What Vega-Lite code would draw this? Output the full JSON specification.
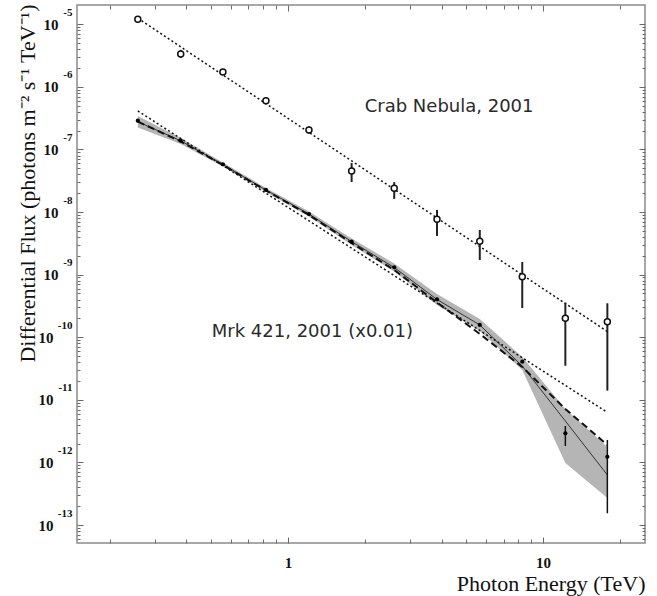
{
  "$schema": "https://vega.github.io/schema/vega-lite/v6.json",
  "width": 568,
  "height": 538,
  "autosize": "none",
  "padding": {"left": 77, "top": 5, "right": 12, "bottom": 53},
  "background": "white",
  "config": {
    "view": {"stroke": "#8a8a8a", "strokeWidth": 1.5},
    "axis": {"grid": false, "domain": false, "ticks": true, "tickColor": "#6a6a6a", "tickWidth": 1, "labelFont": "Liberation Serif", "titleFont": "Liberation Serif", "labelColor": "#111", "titleColor": "#111"}
  },
  "datasets": {
    "spec": [
      {"E": 0.258, "crab": 1.20e-5, "crabLo": 1.08e-5, "crabHi": 1.33e-5, "mrk": 2.88e-7, "bandLo": 2.245e-7, "bandHi": 3.43e-7, "fit": 2.78e-7, "cut": 2.78e-7},
      {"E": 0.380, "crab": 3.35e-6, "crabLo": 2.9e-6, "crabHi": 3.9e-6, "mrk": 1.38e-7, "bandLo": 1.224e-7, "bandHi": 1.526e-7, "fit": 1.37e-7, "cut": 1.34e-7},
      {"E": 0.556, "crab": 1.73e-6, "crabLo": 1.55e-6, "crabHi": 1.93e-6, "mrk": 5.8e-8, "bandLo": 5.35e-8, "bandHi": 6.19e-8, "fit": 5.75e-8, "cut": 5.65e-8},
      {"E": 0.820, "crab": 6.0e-7, "crabLo": 5.3e-7, "crabHi": 6.8e-7, "mrk": 2.25e-8, "bandLo": 2.09e-8, "bandHi": 2.42e-8, "fit": 2.25e-8, "cut": 2.21e-8},
      {"E": 1.209, "crab": 2.05e-7, "crabLo": 1.8e-7, "crabHi": 2.33e-7, "mrk": 9.3e-9, "bandLo": 8.5e-9, "bandHi": 1.02e-8, "fit": 9.3e-9, "cut": 8.97e-9},
      {"E": 1.777, "crab": 4.53e-8, "crabLo": 3.02e-8, "crabHi": 6.08e-8, "mrk": 3.36e-9, "bandLo": 2.98e-9, "bandHi": 3.78e-9, "fit": 3.37e-9, "cut": 3.2e-9},
      {"E": 2.61, "crab": 2.4e-8, "crabLo": 1.62e-8, "crabHi": 3.0e-8, "mrk": 1.31e-9, "bandLo": 1.12e-9, "bandHi": 1.51e-9, "fit": 1.30e-9, "cut": 1.19e-9},
      {"E": 3.84, "crab": 7.66e-9, "crabLo": 4.15e-9, "crabHi": 1.08e-8, "mrk": 4.04e-10, "bandLo": 3.27e-10, "bandHi": 4.91e-10, "fit": 4.01e-10, "cut": 3.59e-10},
      {"E": 5.65, "crab": 3.41e-9, "crabLo": 1.71e-9, "crabHi": 5.17e-9, "mrk": 1.57e-10, "bandLo": 1.26e-10, "bandHi": 1.96e-10, "fit": 1.57e-10, "cut": 1.13e-10},
      {"E": 8.29, "crab": 9.28e-10, "crabLo": 2.93e-10, "crabHi": 1.59e-9, "mrk": 4.07e-11, "bandLo": 3.0e-11, "bandHi": 4.83e-11, "fit": 3.47e-11, "cut": 3.35e-11},
      {"E": 12.23, "crab": 2.01e-10, "crabLo": 3.5e-11, "crabHi": 3.56e-10, "mrk": 2.92e-12, "bandLo": 9.8e-13, "bandHi": 7.14e-12, "fit": 4.59e-12, "cut": 7.14e-12},
      {"E": 17.87, "crab": 1.77e-10, "crabLo": 1.4e-11, "crabHi": 3.49e-10, "mrk": 1.23e-12, "bandLo": 2.7e-13, "bandHi": 1.76e-12, "fit": 6.3e-13, "cut": 1.9e-12}
    ],
    "fits": [
      {"series": "crab", "E": 0.258, "F": 1.25e-5},
      {"series": "crab", "E": 17.87, "F": 1.23e-10},
      {"series": "mrk", "E": 0.258, "F": 4.12e-7},
      {"series": "mrk", "E": 17.87, "F": 6.3e-12}
    ],
    "mrkErr": [
      {"E": 12.23, "lo": 1.83e-12, "hi": 3.82e-12},
      {"E": 17.87, "lo": 1.54e-13, "hi": 2.28e-12}
    ],
    "labels": [
      {"E": 2.0, "F": 4.78e-7, "text": "Crab Nebula, 2001"},
      {"E": 0.503, "F": 1.21e-10, "text": "Mrk 421, 2001 (x0.01)"}
    ]
  },
  "layer": [
    {
      "data": {"name": "spec"},
      "mark": {"type": "area", "color": "#b5b5b5", "opacity": 1},
      "encoding": {
        "x": {"field": "E", "type": "quantitative", "scale": {"type": "log", "domain": [0.149, 25.1], "nice": false, "zero": false},
          "axis": {"orient": "bottom", "values": [1, 10], "ticks": false, "labelExpr": "datum.value == 1 ? '1' : '10'", "labelFontSize": 15, "labelFontWeight": "bold", "labelPadding": 12, "labelFlush": false,
            "title": "Photon Energy (TeV)", "titleFontSize": 22, "titleFontWeight": "normal", "titleX": 568, "titleY": 47, "titleAlign": "right", "titleBaseline": "alphabetic", "titleAnchor": null}},
        "y": {"field": "bandLo", "type": "quantitative", "scale": {"type": "log", "domain": [5.16e-14, 2.03e-5], "nice": false, "zero": false},
          "axis": {"orient": "left", "values": [1e-13, 1e-12, 1e-11, 1e-10, 1e-9, 1e-8, 1e-7, 1e-6, 1e-5], "ticks": false, "labelExpr": "'10'", "labelFontSize": 15, "labelFontWeight": "bold", "labelAlign": "right", "labelBaseline": "middle",
            "labelPadding": {"condition": {"test": "datum.value < 3e-10", "value": 24}, "value": 19}, "labelFlush": false, "labelOverlap": false,
            "title": "Differential Flux (photons m⁻² s⁻¹ TeV⁻¹)", "titleFontSize": 22, "titleFontWeight": "normal", "titleAngle": -90, "titleX": -50, "titleY": -1, "titleAlign": "right", "titleBaseline": "middle", "titleAnchor": null}},
        "y2": {"field": "bandHi"}
      }
    },
    {
      "data": {"name": "spec"},
      "mark": {"type": "line", "color": "#333", "strokeWidth": 1},
      "encoding": {
        "x": {"field": "E", "type": "quantitative",
          "axis": {"orient": "bottom", "values": [0.2, 0.3, 0.4, 0.5, 0.6, 0.7, 0.8, 0.9, 2, 3, 4, 5, 6, 7, 8, 9, 20], "labels": false, "title": null, "tickSize": -4}},
        "y": {"field": "fit", "type": "quantitative",
          "axis": {"orient": "left", "values": [1e-13, 1e-12, 1e-11, 1e-10, 1e-9, 1e-8, 1e-7, 1e-6, 1e-5], "ticks": false, "title": null,
            "labelExpr": "'' + round(log(datum.value) / LN10)", "labelFontSize": 11, "labelFontWeight": "bold", "labelAlign": "right", "labelBaseline": "middle", "labelPadding": 5, "labelOffset": -12, "labelFlush": false, "labelOverlap": false}}
      }
    },
    {
      "data": {"name": "spec"},
      "mark": {"type": "line", "color": "#111", "strokeWidth": 2, "strokeDash": [7, 4]},
      "encoding": {
        "x": {"field": "E", "type": "quantitative",
          "axis": {"orient": "top", "values": [0.2, 0.3, 0.4, 0.5, 0.6, 0.7, 0.8, 0.9, 2, 3, 4, 5, 6, 7, 8, 9, 20], "labels": false, "title": null, "tickSize": -4}},
        "y": {"field": "cut", "type": "quantitative",
          "axis": {"orient": "right", "labels": false, "title": null, "tickSize": -3,
            "values": [6e-14, 7e-14, 8e-14, 9e-14, 2e-13, 3e-13, 4e-13, 5e-13, 6e-13, 7e-13, 8e-13, 9e-13, 2e-12, 3e-12, 4e-12, 5e-12, 6e-12, 7e-12, 8e-12, 9e-12, 2e-11, 3e-11, 4e-11, 5e-11, 6e-11, 7e-11, 8e-11, 9e-11, 2e-10, 3e-10, 4e-10, 5e-10, 6e-10, 7e-10, 8e-10, 9e-10, 2e-9, 3e-9, 4e-9, 5e-9, 6e-9, 7e-9, 8e-9, 9e-9, 2e-8, 3e-8, 4e-8, 5e-8, 6e-8, 7e-8, 8e-8, 9e-8, 2e-7, 3e-7, 4e-7, 5e-7, 6e-7, 7e-7, 8e-7, 9e-7, 2e-6, 3e-6, 4e-6, 5e-6, 6e-6, 7e-6, 8e-6, 9e-6]}}
      }
    },
    {
      "data": {"name": "fits"},
      "mark": {"type": "line", "color": "#111", "strokeWidth": 1.5, "strokeDash": [2, 2.5]},
      "encoding": {
        "detail": {"field": "series"},
        "x": {"field": "E", "type": "quantitative", "axis": null},
        "y": {"field": "F", "type": "quantitative",
          "axis": {"orient": "left", "labels": false, "title": null, "tickSize": -3,
            "values": [6e-14, 7e-14, 8e-14, 9e-14, 2e-13, 3e-13, 4e-13, 5e-13, 6e-13, 7e-13, 8e-13, 9e-13, 2e-12, 3e-12, 4e-12, 5e-12, 6e-12, 7e-12, 8e-12, 9e-12, 2e-11, 3e-11, 4e-11, 5e-11, 6e-11, 7e-11, 8e-11, 9e-11, 2e-10, 3e-10, 4e-10, 5e-10, 6e-10, 7e-10, 8e-10, 9e-10, 2e-9, 3e-9, 4e-9, 5e-9, 6e-9, 7e-9, 8e-9, 9e-9, 2e-8, 3e-8, 4e-8, 5e-8, 6e-8, 7e-8, 8e-8, 9e-8, 2e-7, 3e-7, 4e-7, 5e-7, 6e-7, 7e-7, 8e-7, 9e-7, 2e-6, 3e-6, 4e-6, 5e-6, 6e-6, 7e-6, 8e-6, 9e-6]}}
      }
    },
    {
      "data": {"name": "spec"},
      "mark": {"type": "rule", "color": "#222", "strokeWidth": 2},
      "encoding": {
        "x": {"field": "E", "type": "quantitative",
          "axis": {"orient": "bottom", "values": [1, 10], "labels": false, "title": null, "tickSize": -6}},
        "y": {"field": "crabLo", "type": "quantitative",
          "axis": {"orient": "right", "values": [1e-13, 1e-12, 1e-11, 1e-10, 1e-9, 1e-8, 1e-7, 1e-6, 1e-5], "labels": false, "title": null, "tickSize": -6}},
        "y2": {"field": "crabHi"}
      }
    },
    {
      "data": {"name": "mrkErr"},
      "mark": {"type": "rule", "color": "#111", "strokeWidth": 1.5},
      "encoding": {
        "x": {"field": "E", "type": "quantitative",
          "axis": {"orient": "top", "values": [1, 10], "labels": false, "title": null, "tickSize": -6}},
        "y": {"field": "lo", "type": "quantitative",
          "axis": {"orient": "left", "values": [1e-13, 1e-12, 1e-11, 1e-10, 1e-9, 1e-8, 1e-7, 1e-6, 1e-5], "labels": false, "title": null, "tickSize": -6}},
        "y2": {"field": "hi"}
      }
    },
    {
      "data": {"name": "spec"},
      "mark": {"type": "point", "shape": "circle", "filled": false, "fill": "white", "fillOpacity": 1, "stroke": "#111", "strokeWidth": 1.5, "size": 36, "opacity": 1},
      "encoding": {
        "x": {"field": "E", "type": "quantitative", "axis": null},
        "y": {"field": "crab", "type": "quantitative", "axis": null}
      }
    },
    {
      "data": {"name": "spec"},
      "mark": {"type": "point", "shape": "circle", "filled": true, "color": "#000", "size": 18, "opacity": 1},
      "encoding": {
        "x": {"field": "E", "type": "quantitative", "axis": null},
        "y": {"field": "mrk", "type": "quantitative", "axis": null}
      }
    },
    {
      "data": {"name": "labels"},
      "mark": {"type": "text", "font": "DejaVu Sans", "fontSize": 18, "color": "#2a2a2a", "align": "left", "baseline": "middle"},
      "encoding": {
        "x": {"field": "E", "type": "quantitative", "axis": null},
        "y": {"field": "F", "type": "quantitative", "axis": null},
        "text": {"field": "text"}
      }
    }
  ],
  "resolve": {"axis": {"x": "independent", "y": "independent"}}
}
